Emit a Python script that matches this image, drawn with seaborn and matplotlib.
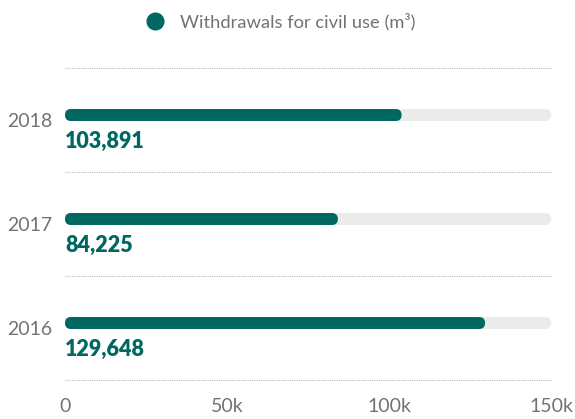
import matplotlib
matplotlib.use("Agg")
import matplotlib.pyplot as plt
import seaborn as sns
import pandas as pd
from matplotlib.patches import FancyBboxPatch
from matplotlib.lines import Line2D

years = ["2018", "2017", "2016"]
withdrawals = [103891, 84225, 129648]
axis_max = 150000
x_ticks = [0, 50000, 100000, 150000]
x_tick_labels = ["0", "50k", "100k", "150k"]
series_name = "Withdrawals for civil use (m³)"

TEAL = "#006861"
TRACK = "#ebebeb"
GRAY = "#737373"

sns.set_theme(style="white")
plt.rcParams["font.family"] = ["Lato", "DejaVu Sans"]

df = pd.DataFrame({"year": years, "value": withdrawals,
                   "track": [axis_max] * len(years)})

W, H, DPI = 575, 419, 100
fig = plt.figure(figsize=(W / DPI, H / DPI), dpi=DPI)
left, right, top, bottom = 65, 551, 68, 380
ax = fig.add_axes([left / W, 1 - bottom / H, (right - left) / W, (bottom - top) / H])

bar_h = 0.115
sns.barplot(data=df, y="year", x="track", order=years, color=TRACK,
            width=bar_h, orient="h", ax=ax, saturation=1)
sns.barplot(data=df, y="year", x="value", order=years, color=TEAL,
            width=bar_h, orient="h", ax=ax, saturation=1)

ax.set_xlim(0, axis_max)
ax.set_ylim(2.5, -0.5)

# rounded bar ends, shifted slightly above the band centre
x_per_px = axis_max / (right - left)
y_per_px = 3 / (bottom - top)
radius = 6 * x_per_px
shift = -0.048
for p in list(ax.patches):
    x0, y0, w, h = p.get_x(), p.get_y(), p.get_width(), p.get_height()
    fc = p.get_facecolor()
    p.remove()
    fb = FancyBboxPatch((x0, y0 + shift), w, h,
                        boxstyle=f"round,pad=0,rounding_size={radius}",
                        mutation_aspect=y_per_px / x_per_px,
                        facecolor=fc, edgecolor="none", zorder=2)
    ax.add_patch(fb)

# value labels under each bar
for i, v in enumerate(withdrawals):
    ax.text(0, i + 0.21, f"{v:,}", color=TEAL, fontsize=15.5, fontweight="heavy",
            ha="left", va="center")

# dotted separators between the year bands
for yb in [-0.5, 0.5, 1.5, 2.5]:
    ax.axhline(yb, color="#bbbbbb", lw=0.8, ls=(0, (1, 1)), zorder=1, clip_on=False)

ax.set_xticks(x_ticks)
ax.set_xticklabels(x_tick_labels)
ax.tick_params(axis="x", colors=GRAY, labelsize=14, length=0, pad=13)
ax.tick_params(axis="y", colors=GRAY, labelsize=14, length=0, pad=9)
ax.set_xlabel("")
ax.set_ylabel("")
for s in ax.spines.values():
    s.set_visible(False)

handle = Line2D([], [], marker="o", color=TEAL, ls="none", markersize=12)
fig.legend([handle], [series_name], loc="center", bbox_to_anchor=(276 / W, 1 - 22 / H),
           frameon=False, fontsize=13.2, labelcolor=GRAY, handletextpad=0.35)

fig.savefig("out.png", dpi=DPI)
